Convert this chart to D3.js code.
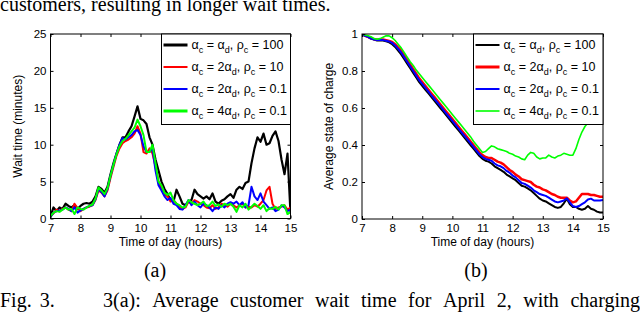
<!DOCTYPE html>
<html>
<head>
<meta charset="utf-8">
<script src="https://cdn.jsdelivr.net/npm/d3@7"></script>
<style>
  body { margin: 0; background: #fff; }
  svg { display: block; }
  .tick text { font-family: "Liberation Sans", Arial, sans-serif; font-size: 11.5px; fill: #000; }
  .lab { font-family: "Liberation Sans", Arial, sans-serif; font-size: 12px; fill: #000; }
  .leg { font-family: "Liberation Sans", Arial, sans-serif; font-size: 12.5px; fill: #000; }
  .serif { font-family: "Liberation Serif", "Times New Roman", serif; font-size: 20px; fill: #000; }
</style>
</head>
<body>
<svg id="fig" width="640" height="315"></svg>
<script>
// sample times (hours of day)
const hours = [7.0,7.1,7.2,7.3,7.4,7.5,7.6,7.7,7.8,7.9,8.0,8.1,8.2,8.3,8.4,8.5,8.6,8.7,8.8,8.9,
  9.0,9.1,9.2,9.3,9.4,9.5,9.6,9.7,9.8,9.9,10.0,10.1,10.2,10.3,10.4,10.5,10.6,10.7,10.8,10.9,
  11.0,11.1,11.2,11.3,11.4,11.5,11.6,11.7,11.8,11.9,12.0,12.1,12.2,12.3,12.4,12.5,12.6,12.7,12.8,12.9,
  13.0,13.1,13.2,13.3,13.4,13.5,13.6,13.7,13.8,13.9,14.0,14.1,14.2,14.3,14.4,14.5,14.6,14.7,14.8,14.9,15.0];

// (a) wait time, minutes
const waitBlack = [0.3,1.5,1.0,1.5,1.3,2.0,1.7,1.5,1.8,1.3,1.7,2.0,2.1,2.0,2.3,3.0,4.3,4.0,3.5,4.3,
  6.0,7.5,8.8,10.0,11.0,11.0,11.8,12.5,13.8,15.2,13.5,13.3,12.8,11.0,10.0,8.0,6.5,5.0,4.0,3.3,
  2.5,2.3,3.9,3.0,2.0,1.8,2.3,2.5,3.9,3.3,3.0,2.7,3.0,2.6,3.4,2.3,2.0,2.4,2.6,3.0,
  3.3,2.8,3.9,4.3,4.0,4.8,5.0,7.5,9.5,11.0,10.4,11.5,10.0,10.2,11.2,11.8,10.5,8.0,6.0,8.8,0.7];
const waitRed = [0.3,0.7,1.2,1.0,1.3,1.5,1.2,1.0,2.0,1.4,1.0,1.3,1.5,1.6,1.8,2.5,3.8,3.5,3.0,3.8,
  5.5,7.0,8.5,9.5,10.2,10.5,10.7,11.0,11.5,12.5,11.5,9.0,8.8,9.5,8.8,7.0,5.0,4.0,3.3,3.0,
  2.3,2.5,2.0,1.5,1.3,1.5,2.3,2.0,2.5,2.3,2.0,1.8,1.5,1.4,1.8,1.3,1.5,2.0,1.8,1.6,
  2.0,1.8,1.5,1.8,2.0,1.5,1.6,1.5,1.8,1.6,2.0,2.5,3.8,4.3,2.0,1.3,1.5,1.6,1.8,1.2,1.5];
const waitBlue = [0.2,0.8,1.0,1.1,1.2,1.5,1.3,1.0,1.5,0.8,1.1,1.3,1.5,1.7,1.8,2.6,4.0,3.6,3.0,4.0,
  5.8,7.3,8.8,10.0,10.9,10.7,11.0,11.3,11.8,12.0,11.3,9.8,9.0,9.0,9.5,6.5,4.5,3.8,3.0,2.5,
  2.8,2.0,1.8,1.3,1.2,1.8,2.5,1.8,2.3,1.8,1.5,2.0,1.8,1.5,1.0,1.5,1.3,1.8,1.5,2.0,
  2.2,2.0,2.3,1.8,2.2,1.5,1.8,4.3,3.0,2.5,3.4,2.3,1.8,1.3,1.5,1.0,1.2,1.8,1.5,1.0,1.2];
const waitGreen = [0.3,0.8,1.0,0.9,1.2,1.5,1.2,1.3,0.6,1.5,1.3,1.2,1.5,1.7,1.9,2.7,4.2,3.8,3.3,4.1,
  5.8,7.3,8.7,9.8,10.5,10.8,11.3,11.8,12.3,13.4,12.5,11.3,9.0,9.0,10.0,7.5,5.0,4.5,3.5,3.2,
  3.5,2.5,2.0,1.8,1.5,1.6,2.5,2.2,2.0,1.8,2.0,2.3,1.7,1.8,2.3,1.7,1.9,1.6,2.0,1.8,
  2.0,1.6,0.9,1.8,1.5,2.0,1.2,1.6,2.0,1.7,1.3,1.8,1.0,1.4,1.3,1.6,1.2,1.8,1.8,0.6,0.9];

// (b) average state of charge
const socBlack = [1.0,0.99,0.985,0.975,0.97,0.965,0.965,0.965,0.96,0.955,0.945,0.93,0.91,0.89,0.865,0.84,0.815,0.79,0.765,0.74,
  0.72,0.70,0.68,0.66,0.64,0.62,0.60,0.58,0.56,0.54,0.52,0.50,0.48,0.46,0.44,0.42,0.40,0.38,0.36,0.34,
  0.325,0.315,0.31,0.30,0.285,0.275,0.265,0.255,0.24,0.23,0.22,0.21,0.195,0.18,0.175,0.165,0.155,0.14,0.125,0.11,
  0.10,0.095,0.085,0.075,0.065,0.06,0.065,0.085,0.11,0.08,0.065,0.065,0.055,0.05,0.055,0.07,0.055,0.05,0.04,0.035,0.035];
const socRed = [1.0,0.99,0.985,0.977,0.972,0.97,0.97,0.97,0.967,0.963,0.957,0.945,0.928,0.91,0.885,0.86,0.835,0.81,0.785,0.76,
  0.74,0.72,0.70,0.68,0.66,0.64,0.62,0.60,0.58,0.56,0.54,0.52,0.50,0.48,0.46,0.44,0.42,0.40,0.38,0.36,
  0.345,0.335,0.33,0.33,0.32,0.31,0.305,0.295,0.28,0.265,0.255,0.24,0.23,0.215,0.21,0.205,0.20,0.185,0.175,0.17,
  0.16,0.155,0.145,0.135,0.13,0.12,0.115,0.115,0.115,0.10,0.09,0.095,0.115,0.135,0.135,0.135,0.13,0.13,0.125,0.12,0.12];
const socBlue = [1.0,0.99,0.985,0.975,0.97,0.967,0.967,0.967,0.963,0.96,0.952,0.938,0.92,0.90,0.875,0.85,0.825,0.80,0.775,0.75,
  0.73,0.71,0.69,0.67,0.65,0.63,0.61,0.59,0.57,0.55,0.53,0.51,0.49,0.47,0.45,0.43,0.41,0.39,0.37,0.35,
  0.335,0.325,0.32,0.315,0.30,0.29,0.285,0.275,0.26,0.25,0.235,0.225,0.21,0.195,0.19,0.18,0.17,0.155,0.145,0.135,
  0.13,0.125,0.115,0.105,0.095,0.09,0.095,0.10,0.112,0.09,0.07,0.065,0.07,0.08,0.09,0.105,0.11,0.10,0.10,0.10,0.103];
const socGreen = [1.0,0.995,0.99,0.985,0.975,0.972,0.975,0.983,0.99,0.99,0.98,0.965,0.945,0.925,0.90,0.875,0.85,0.83,0.805,0.785,
  0.765,0.745,0.725,0.705,0.685,0.665,0.645,0.625,0.605,0.585,0.565,0.545,0.525,0.505,0.485,0.465,0.445,0.42,0.40,0.38,
  0.36,0.365,0.38,0.395,0.39,0.38,0.375,0.37,0.365,0.355,0.35,0.34,0.335,0.325,0.32,0.345,0.36,0.355,0.335,0.325,
  0.33,0.33,0.345,0.335,0.33,0.34,0.345,0.355,0.35,0.345,0.345,0.38,0.43,0.47,0.50,0.52,0.54,0.56,0.59,0.62,0.65];

const xTicks = [7, 8, 9, 10, 11, 12, 13, 14, 15];
const waitTicks = [0, 5, 10, 15, 20, 25];
const socTicks = [0, 0.2, 0.4, 0.6, 0.8, 1];
// legend: [alpha multiplier, rho value]
const legendMult = ["", "2", "2", "4"];
const legendRho = ["100", "10", "0.1", "0.1"];
const colors = ["#000000", "#ff0000", "#0000ff", "#00ff00"];

const svg = d3.select("#fig");

function panel(o) {
  const x = d3.scaleLinear().domain([7, 15]).range([o.left, o.right]);
  const y = d3.scaleLinear().domain(o.domain).range([o.bottom, o.top]);
  const g = svg.append("g");

  // series
  const line = d3.line().x((d, i) => x(hours[i])).y(d => y(d));
  g.append("defs").append("clipPath").attr("id", o.id)
    .append("rect").attr("x", o.left).attr("y", o.top)
    .attr("width", o.right - o.left).attr("height", o.bottom - o.top);
  const lines = g.append("g").attr("clip-path", `url(#${o.id})`);
  o.series.forEach((s, k) => {
    lines.append("path").datum(s)
      .attr("fill", "none").attr("stroke", colors[k])
      .attr("stroke-width", o.widths[k]).attr("stroke-linejoin", "round")
      .attr("d", line);
  });

  // axes (ticks inside, box all round)
  const fmt = o.fmt;
  g.append("g").attr("transform", `translate(0,${o.bottom})`)
    .call(d3.axisBottom(x).tickValues(xTicks).tickSizeInner(-3).tickSizeOuter(0).tickPadding(5))
    .call(a => a.select(".domain").remove());
  g.append("g").attr("transform", `translate(0,${o.top})`)
    .call(d3.axisTop(x).tickValues(xTicks).tickSizeInner(-3).tickSizeOuter(0).tickFormat(""))
    .call(a => a.select(".domain").remove());
  g.append("g").attr("transform", `translate(${o.left},0)`)
    .call(d3.axisLeft(y).tickValues(o.ticks).tickSizeInner(-3).tickSizeOuter(0).tickPadding(4).tickFormat(fmt))
    .call(a => a.select(".domain").remove());
  g.append("g").attr("transform", `translate(${o.right},0)`)
    .call(d3.axisRight(y).tickValues(o.ticks).tickSizeInner(-3).tickSizeOuter(0).tickFormat(""))
    .call(a => a.select(".domain").remove());
  g.selectAll(".tick line").attr("stroke", "#000");
  g.append("rect").attr("x", o.left).attr("y", o.top)
    .attr("width", o.right - o.left).attr("height", o.bottom - o.top)
    .attr("fill", "none").attr("stroke", "#000").attr("stroke-width", 1);

  // labels
  g.append("text").attr("class", "lab").attr("text-anchor", "middle")
    .attr("x", (o.left + o.right) / 2).attr("y", o.bottom + 27).text("Time of day (hours)");
  g.append("text").attr("class", "lab").attr("text-anchor", "middle")
    .attr("transform", `translate(${o.ylabX},${(o.top + o.bottom) / 2}) rotate(-90)`)
    .text(o.ylabel);

  // legend
  const lg = g.append("g");
  lg.append("rect").attr("x", o.legLeft).attr("y", o.top)
    .attr("width", o.right - o.legLeft).attr("height", 90.5)
    .attr("fill", "#fff").attr("stroke", "#000").attr("stroke-width", 1);
  legendRho.forEach((rho, k) => {
    const yy = o.top + 11 + k * 22;
    lg.append("line").attr("x1", o.legLeft + 2).attr("x2", o.legLeft + 26)
      .attr("y1", yy).attr("y2", yy)
      .attr("stroke", colors[k]).attr("stroke-width", o.legWidths[k]);
    const t = lg.append("text").attr("class", "leg").attr("x", o.legLeft + 30).attr("y", yy + 4);
    t.append("tspan").text("α");
    t.append("tspan").attr("font-size", "9px").attr("dy", 4).text("c");
    t.append("tspan").attr("dy", -4).text(` = ${legendMult[k]}α`);
    t.append("tspan").attr("font-size", "9px").attr("dy", 4).text("d");
    t.append("tspan").attr("dy", -4).text(", ρ");
    t.append("tspan").attr("font-size", "9px").attr("dy", 4).text("c");
    t.append("tspan").attr("dy", -4).text(` = ${rho}`);
  });
}

panel({
  id: "clipA", left: 50.5, right: 290.5, top: 34, bottom: 218.5,
  domain: [0, 25], ticks: waitTicks, fmt: d3.format("d"),
  series: [waitBlack, waitRed, waitBlue, waitGreen], widths: [2.2, 2, 2, 2],
  ylabel: "Wait time (minutes)", ylabX: 22,
  legLeft: 161.5, legWidths: [3, 2, 2, 3]
});
panel({
  id: "clipB", left: 362, right: 603, top: 34, bottom: 219,
  domain: [0, 1], ticks: socTicks, fmt: d => d === 0 || d === 1 ? String(d) : d3.format(".1f")(d),
  series: [socBlack, socRed, socBlue, socGreen], widths: [2, 2.5, 2, 1.6],
  ylabel: "Average state of charge", ylabX: 333,
  legLeft: 473.5, legWidths: [2, 3, 2, 1.6]
});

// surrounding paper text (cut off at the top, as in the page crop)
svg.append("text").attr("class", "serif").attr("x", 0).attr("y", 11)
  .text("customers, resulting in longer wait times.");
svg.append("text").attr("class", "serif").attr("text-anchor", "middle")
  .attr("x", 155).attr("y", 277).text("(a)");
svg.append("text").attr("class", "serif").attr("text-anchor", "middle")
  .attr("x", 476).attr("y", 277).text("(b)");

// justified caption line
const capWords = ["Fig.", "3.", "3(a):", "Average", "customer", "wait", "time", "for", "April", "2,", "with", "charging"];
const capY = 307;
const cap = svg.append("g");
const nodes = capWords.map(w => cap.append("text").attr("class", "serif").attr("y", capY).text(w));
const widths = nodes.map(n => n.node().getComputedTextLength());
nodes[0].attr("x", 0);
nodes[1].attr("x", widths[0] + 8);
const rest = nodes.slice(2), restW = widths.slice(2);
const start = 103, end = 640;
const gap = (end - start - d3.sum(restW)) / (rest.length - 1);
let cx = start;
rest.forEach((n, i) => { n.attr("x", cx); cx += restW[i] + gap; });
</script>
</body>
</html>
